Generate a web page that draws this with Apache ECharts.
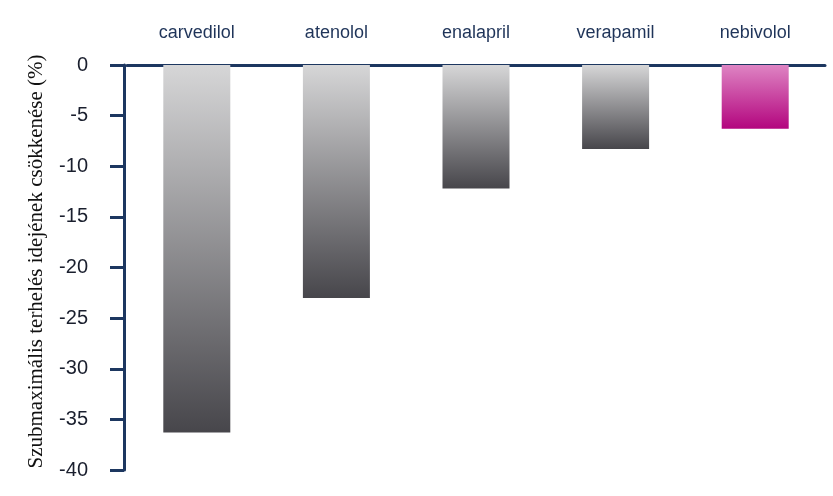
<!DOCTYPE html>
<html>
<head>
<meta charset="utf-8">
<script src="https://cdn.jsdelivr.net/npm/echarts@6/dist/echarts.min.js"></script>
<style>html,body{margin:0;padding:0;background:#fff}#c{width:833px;height:496px}</style>
</head>
<body>
<div id="c"></div>
<script>
const categories = ['carvedilol', 'atenolol', 'enalapril', 'verapamil', 'nebivolol'];
const values = [-36.3, -23.0, -12.2, -8.3, -6.3];
const highlightCategory = 'nebivolol';
const yAxisTitle = 'Szubmaximális terhelés idejének csökkenése (%)';

const grayGrad = new echarts.graphic.LinearGradient(0, 0, 0, 1, [
  { offset: 0, color: '#d6d6d7' },
  { offset: 1, color: '#47464b' }
]);
const pinkGrad = new echarts.graphic.LinearGradient(0, 0, 0, 1, [
  { offset: 0, color: '#de84c3' },
  { offset: 1, color: '#b3057e' }
]);

const chart = echarts.init(document.getElementById('c'), null, { renderer: 'canvas' });
chart.setOption({
  animation: false,
  backgroundColor: '#ffffff',
  grid: { left: 127, right: 8, top: 65, bottom: 26, containLabel: false },
  xAxis: {
    type: 'category',
    data: categories,
    position: 'top',
    axisLine: { show: true, onZero: false, lineStyle: { color: '#1d3760', width: 3 } },
    axisTick: { show: false },
    axisLabel: { color: '#1f3459', fontSize: 18, fontFamily: 'Liberation Sans, Arial, sans-serif', margin: 23 }
  },
  yAxis: {
    type: 'value',
    min: -40,
    max: 0,
    interval: 5,
    offset: 3,
    name: yAxisTitle,
    nameLocation: 'middle',
    nameGap: 77,
    nameRotate: 90,
    nameTextStyle: { color: '#111111', fontSize: 21, fontFamily: 'Liberation Serif, Times New Roman, serif', padding: [0, 0, 0, 12] },
    axisLine: { show: true, lineStyle: { color: '#1d3760', width: 3 } },
    axisTick: { show: true, length: 14, lineStyle: { color: '#1d3760', width: 3 } },
    axisLabel: { color: '#1a1f2e', fontSize: 20, fontFamily: 'Liberation Sans, Arial, sans-serif', margin: 36 },
    splitLine: { show: false }
  },
  series: [{
    type: 'bar',
    barWidth: 67,
    data: values.map((v, i) => ({
      value: v,
      itemStyle: { color: categories[i] === highlightCategory ? pinkGrad : grayGrad }
    }))
  }]
});
</script>
</body>
</html>
